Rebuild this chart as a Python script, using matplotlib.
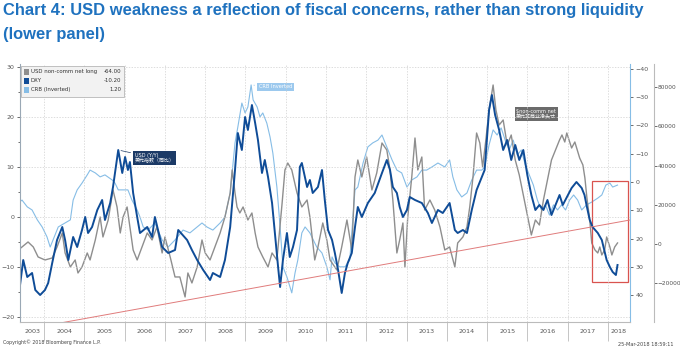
import matplotlib
matplotlib.use("Agg")
import matplotlib.pyplot as plt
import matplotlib.patches as patches
import numpy as np

plt.rcParams['font.family'] = ['DejaVu Sans', 'Noto Sans CJK SC']

# DXY, y/y %  (left axis)
dxy_t = [2003.36, 2003.48, 2003.58, 2003.70, 2003.78, 2003.90, 2004.02, 2004.10, 2004.20, 2004.32,
         2004.45, 2004.52, 2004.60, 2004.72, 2004.82, 2004.94, 2005.02, 2005.09, 2005.19, 2005.32,
         2005.44, 2005.51, 2005.64, 2005.71, 2005.84, 2005.94, 2006.01, 2006.08, 2006.13, 2006.21,
         2006.31, 2006.38, 2006.56, 2006.68, 2006.75, 2006.93, 2007.08, 2007.25, 2007.33, 2007.55,
         2007.67, 2007.80, 2007.95, 2008.12, 2008.19, 2008.37, 2008.49, 2008.62, 2008.74, 2008.81,
         2008.91, 2008.99, 2009.06, 2009.16, 2009.24, 2009.31, 2009.41, 2009.48, 2009.56, 2009.66,
         2009.73, 2009.81, 2009.86, 2009.93, 2010.03, 2010.10, 2010.18, 2010.28, 2010.35, 2010.40,
         2010.53, 2010.60, 2010.67, 2010.80, 2010.90, 2010.97, 2011.05, 2011.15, 2011.22, 2011.30,
         2011.39, 2011.47, 2011.54, 2011.64, 2011.72, 2011.79, 2011.89, 2012.04, 2012.21, 2012.39,
         2012.51, 2012.59, 2012.66, 2012.76, 2012.83, 2012.91, 2013.01, 2013.08, 2013.21, 2013.38,
         2013.53, 2013.63, 2013.78, 2013.90, 2014.07, 2014.20, 2014.27, 2014.40, 2014.50, 2014.62,
         2014.74, 2014.87, 2014.94, 2015.05, 2015.12, 2015.20, 2015.30, 2015.40, 2015.50, 2015.60,
         2015.70, 2015.80, 2015.90, 2016.00, 2016.10, 2016.20, 2016.30, 2016.40, 2016.50, 2016.60,
         2016.70, 2016.80, 2016.88, 2016.97, 2017.10, 2017.22, 2017.35, 2017.42, 2017.47, 2017.55,
         2017.62, 2017.75, 2017.85, 2017.97, 2018.05, 2018.12, 2018.20, 2018.24]
dxy_v = [-16.2, -8.6, -12.0, -11.2, -14.6, -15.6, -14.6, -13.2, -9.2, -4.6,
         -2.0, -4.6, -8.6, -4.0, -6.0, -2.6, 0.0, -3.2, -2.0, 1.4,
         3.4, -0.6, 2.8, 6.0, 13.4, 8.8, 12.0, 9.4, 11.0, 4.8,
         0.0, -3.2, -2.0, -4.0, 0.0, -6.0, -7.2, -6.6, -2.6, -4.6,
         -6.6, -8.6, -10.6, -12.6, -11.2, -12.0, -8.6, -2.0, 9.4, 16.8,
         13.4, 20.0, 17.4, 22.4, 18.8, 15.4, 8.8, 11.4, 8.0, 2.8,
         -3.2, -10.0, -14.0, -8.6, -3.2, -8.0, -6.0, -2.6, 10.0, 10.8,
         6.0, 7.4, 4.8, 6.0, 9.4, 3.4, -2.6, -4.6, -7.2, -10.6,
         -15.2, -11.2, -9.2, -7.2, -2.0, 2.0, 0.0, 2.8, 4.8, 8.8,
         11.4, 9.4, 6.0, 4.8, 2.0, 0.0, 1.4, 4.0, 3.4, 2.8,
         0.8, -1.2, 1.4, 0.8, 2.8, -2.6, -3.2, -2.6, -3.2, 1.4,
         5.4, 8.0, 9.4, 21.4, 24.4, 20.4, 17.4, 13.4, 15.4, 11.4,
         14.4, 11.4, 13.4, 8.4, 4.4, 1.4, 2.4, 1.4, 3.4, 0.4,
         2.4, 4.4, 2.4, 3.8, 5.8, 7.0, 5.8, 4.4, 2.4, -0.6,
         -2.0, -3.2, -4.6, -8.6, -10.0, -11.0, -11.6, -9.6]

# CRB y/y %, plotted on an inverted axis
crb_t = [2003.36, 2003.45, 2003.58, 2003.70, 2003.83, 2003.95, 2004.07, 2004.15, 2004.22, 2004.35,
         2004.52, 2004.65, 2004.72, 2004.82, 2004.94, 2005.07, 2005.14, 2005.27, 2005.39, 2005.51,
         2005.69, 2005.76, 2005.84, 2005.96, 2006.08, 2006.18, 2006.31, 2006.38, 2006.46, 2006.58,
         2006.75, 2006.93, 2007.08, 2007.25, 2007.45, 2007.62, 2007.80, 2007.92, 2008.04, 2008.19,
         2008.37, 2008.49, 2008.62, 2008.74, 2008.81, 2008.91, 2008.99, 2009.06, 2009.14, 2009.19,
         2009.29, 2009.36, 2009.43, 2009.53, 2009.61, 2009.68, 2009.78, 2009.86, 2009.93, 2010.03,
         2010.15, 2010.23, 2010.30, 2010.40, 2010.48, 2010.60, 2010.77, 2010.90, 2011.02, 2011.10,
         2011.15, 2011.22, 2011.34, 2011.47, 2011.59, 2011.72, 2011.79, 2011.92, 2012.04, 2012.16,
         2012.29, 2012.39, 2012.51, 2012.64, 2012.76, 2012.88, 2013.01, 2013.13, 2013.26, 2013.38,
         2013.50, 2013.63, 2013.78, 2013.95, 2014.07, 2014.15, 2014.25, 2014.37, 2014.50, 2014.62,
         2014.74, 2014.87, 2014.94, 2015.05, 2015.15, 2015.25, 2015.35, 2015.45, 2015.55, 2015.65,
         2015.75, 2015.85, 2015.95, 2016.05, 2016.15, 2016.25, 2016.35, 2016.45, 2016.55, 2016.65,
         2016.75, 2016.85, 2016.95, 2017.05, 2017.15, 2017.25, 2017.35, 2017.47, 2017.60, 2017.75,
         2017.85, 2017.95, 2018.05, 2018.12, 2018.24]
crb_v = [7.4, 6.4, 8.8, 9.9, 13.4, 15.9, 19.4, 23.0, 20.5, 15.9,
         14.5, 13.4, 6.4, 2.8, 0.4, -2.5, -4.2, -3.2, -1.8, -2.5,
         -0.7, 0.4, 2.8, 2.8, 2.8, 6.4, 9.9, 12.4, 15.9, 17.0,
         14.5, 20.5, 23.0, 20.5, 17.0, 18.0, 15.9, 14.5, 15.9, 17.0,
         14.5, 12.4, 3.9, -13.8, -19.4, -27.9, -24.4, -26.5, -34.3, -29.0,
         -26.5, -23.0, -24.4, -20.8, -15.9, -10.2, 1.8, 15.9, 30.0, 33.6,
         39.2, 32.2, 27.6, 18.0, 15.9, 18.0, 23.0, 25.1, 30.0, 34.6,
         26.5, 28.6, 30.0, 30.0, 27.6, 2.8, 1.8, -6.7, -12.4, -13.8,
         -14.8, -16.6, -12.4, -7.8, -4.2, -3.2, 1.8, -0.7, -1.8, -4.2,
         -4.2, -5.3, -6.7, -5.3, -7.8, -1.8, 2.8, 5.3, 3.9, -0.7,
         -4.2, -4.2, -5.3, -13.1, -18.4, -16.6, -19.1, -14.8, -11.3, -14.8,
         -9.5, -11.3, -6.0, -2.5, 1.1, 6.4, 9.9, 8.1, 11.7, 8.1,
         9.9, 8.1, 9.9, 6.4, 4.6, 6.4, 9.9, 8.1, 7.1, 5.7,
         4.6, 1.1, 0.4, 1.8, 1.1]

# USD non-commercial net long, contracts (far right axis)
pos_t = [2003.36, 2003.60, 2003.73, 2003.85, 2004.02, 2004.20, 2004.32, 2004.45, 2004.52, 2004.65,
         2004.77, 2004.84, 2004.94, 2005.07, 2005.14, 2005.27, 2005.39, 2005.46, 2005.59, 2005.71,
         2005.81, 2005.89, 2005.96, 2006.06, 2006.13, 2006.21, 2006.31, 2006.43, 2006.56, 2006.68,
         2006.80, 2006.93, 2007.00, 2007.13, 2007.25, 2007.37, 2007.50, 2007.57, 2007.67, 2007.80,
         2007.92, 2008.00, 2008.12, 2008.24, 2008.37, 2008.49, 2008.62, 2008.67, 2008.74, 2008.79,
         2008.86, 2008.94, 2009.06, 2009.16, 2009.24, 2009.31, 2009.43, 2009.56, 2009.66, 2009.78,
         2009.91, 2009.98, 2010.05, 2010.15, 2010.28, 2010.40, 2010.53, 2010.60, 2010.72, 2010.80,
         2010.92, 2011.02, 2011.10, 2011.27, 2011.39, 2011.52, 2011.64, 2011.72, 2011.79, 2011.89,
         2012.01, 2012.14, 2012.26, 2012.39, 2012.51, 2012.59, 2012.66, 2012.76, 2012.83, 2012.91,
         2012.96, 2013.03, 2013.13, 2013.21, 2013.28, 2013.38, 2013.45, 2013.58, 2013.70, 2013.83,
         2013.95, 2014.07, 2014.20, 2014.27, 2014.40, 2014.50, 2014.57, 2014.65, 2014.74, 2014.82,
         2014.89, 2014.97, 2015.05, 2015.15, 2015.22, 2015.30, 2015.40, 2015.50, 2015.60, 2015.70,
         2015.80, 2015.90, 2016.00, 2016.10, 2016.20, 2016.30, 2016.40, 2016.50, 2016.60, 2016.70,
         2016.80, 2016.86, 2016.93, 2016.98, 2017.10, 2017.18, 2017.30, 2017.38, 2017.43, 2017.48,
         2017.55, 2017.60, 2017.68, 2017.75, 2017.80, 2017.85, 2017.92, 2017.97, 2018.05, 2018.10,
         2018.17, 2018.24]
pos_v = [-3060, 1020, -1530, -6630, -8160, -7140, -1530, 5610, -4590, -11730,
         -8160, -14790, -11730, -4590, -8160, 2040, 13770, 3570, 12240, 27540,
         18870, 5610, 13770, 18870, 8670, -3060, -8160, -1530, 5610, 2040,
         8670, -4590, 3570, -6630, -16830, -16830, -27030, -14790, -19890, -11730,
         2040, -4590, -8160, -1530, 5610, 13770, 26010, 37740, 26010, 18870,
         15810, 18870, 12240, 15810, 5610, -1530, -6630, -11730, -4590, -8160,
         20910, 37740, 41310, 37740, 26010, 18870, 22440, 13770, -8160, -1530,
         10710, 2040, -8160, -13260, -1530, 12240, -3060, 34170, 42840, 34170,
         44370, 27540, 36210, 51510, 47940, 37740, 22440, -4590, 2040, 10710,
         -11730, 13770, 34170, 54060, 37740, 44370, 17340, 22440, 17340, 8670,
         -3060, -1530, -11730, 510, 3570, 8670, 18870, 34170, 56610, 51510,
         39270, 53040, 68340, 81090, 68340, 60690, 63240, 50490, 55590, 42840,
         35190, 24990, 14790, 4590, 12240, 9690, 22440, 32640, 42840, 47940,
         53040, 55590, 52020, 56610, 48960, 52020, 43860, 40290, 33660, 23460,
         12240, 510, -3060, -4590, -1530, -5610, -3060, 3570, -1530, -5610,
         -1530, 510]

years = list(range(2003, 2019))
legend_names = ["USD non-comm net long", "DXY", "CRB (Inverted)"]
legend_last = ["-64.00", "-10.20", "1.20"]

# hand drawn trend line and highlight box (left axis units)
trend_t = [2004.4, 2018.55]
trend_v = [-21.2, -0.6]
box_t = [2017.6, 2018.5]
box_v = [-13.0, 7.2]

c_dxy = '#0f4c97'
c_crb = '#86bde6'
c_pos = '#8e8e8e'
tick_c = '#555555'

fig = plt.figure(figsize=(6.8, 3.52), dpi=100)
ax = fig.add_axes([20 / 680, 30 / 352, 610 / 680, 258 / 352])
ax2 = ax.twinx()
ax3 = ax.twinx()
ax2.set_zorder(1)
ax3.set_zorder(2)
ax.set_zorder(3)
ax.patch.set_visible(False)

xmin, xmax = 2003.4, 2018.55
ax.set_xlim(xmin, xmax)
ax.set_ylim(-21.0, 30.6)
ax2.set_ylim(49.5, -41.7)
ax3.set_ylim(-39800, 91800)

ax2.plot(crb_t, crb_v, color=c_crb, lw=0.8)
ax3.plot(pos_t, pos_v, color=c_pos, lw=1.0)
ax.plot(dxy_t, dxy_v, color=c_dxy, lw=1.4)
ax.plot(trend_t, trend_v, color='#e07b7b', lw=0.7)
ax.add_patch(patches.Rectangle((box_t[0], box_v[0]), box_t[1] - box_t[0], box_v[1] - box_v[0],
                               fill=False, ec='#d9534f', lw=0.9))

# axes styling
for a in (ax, ax2, ax3):
    a.spines['top'].set_visible(False)
ax.spines['right'].set_visible(False)
ax.spines['left'].set_color('#9aa8b5')
ax.spines['bottom'].set_color('#bbbbbb')
for s in ('left', 'bottom'):
    ax2.spines[s].set_visible(False)
    ax3.spines[s].set_visible(False)
ax2.spines['right'].set_color(c_crb)
ax3.spines['right'].set_position(('outward', 17))
ax3.spines['right'].set_color('#bbbbbb')

ax.set_yticks(np.arange(-20, 31, 10))
ax.set_yticks(np.arange(-20, 31, 5), minor=True)
ax.tick_params(axis='y', which='both', labelsize=4.5, colors=tick_c, length=2.5, width=0.6, pad=1.5)
ax.tick_params(axis='y', which='minor', length=1.5)

ax.set_xticks(years[1:])
ax.set_xticklabels([])
mids = [(max(y, xmin) + min(y + 1, xmax)) / 2 for y in years]
ax.set_xticks(mids, minor=True)
ax.set_xticklabels([str(y) for y in years], minor=True)
ax.tick_params(axis='x', which='major', length=14, width=0.6, color='#bbbbbb')
ax.tick_params(axis='x', which='minor', length=0, labelsize=4.6, colors=tick_c, pad=5)

ax.grid(True, which='major', linestyle=(0, (2, 2)), color='#cfcfcf', lw=0.5)

ax2.set_yticks(np.arange(-40, 41, 10))
ax2.tick_params(axis='y', labelsize=4.5, colors=tick_c, length=2.5, width=0.6, pad=1.5)
for t in ax2.yaxis.get_ticklines():
    t.set_color(c_crb)
ax3.set_yticks(np.arange(-20000, 80001, 20000))
ax3.tick_params(axis='y', labelsize=4.2, colors=tick_c, length=2, width=0.6, pad=0.8)

# legend box
ax.add_patch(patches.Rectangle((0.002, 0.872), 0.168, 0.122, transform=ax.transAxes,
                               fc='#f2f2f2', ec='#aaaaaa', lw=0.5, zorder=5))
for i, (nm, val, c) in enumerate(zip(legend_names, legend_last, [c_pos, c_dxy, c_crb])):
    yy = 0.970 - i * 0.035
    ax.add_patch(patches.Rectangle((0.007, yy - 0.012), 0.008, 0.022, transform=ax.transAxes,
                                   fc=c, ec='none', zorder=6))
    ax.text(0.018, yy, nm, transform=ax.transAxes, fontsize=3.9, color='#333333',
            va='center', ha='left', zorder=6)
    ax.text(0.166, yy, val, transform=ax.transAxes, fontsize=3.9, color='#333333',
            va='center', ha='right', zorder=6)

# series tags
i_pk = int(np.argmax(dxy_v[:30]))
ax.annotate("USD (Y/Y)\n美元指数（同比）", xy=(dxy_t[i_pk], dxy_v[i_pk]), xytext=(2006.25, 11.8),
            fontsize=3.6, color='white', va='center', ha='left', linespacing=1.1,
            bbox=dict(boxstyle='square,pad=0.3', fc='#1c3a66', ec='none'),
            arrowprops=dict(arrowstyle='-', color='#1c3a66', lw=0.5), zorder=7)
i_crb = int(np.argmin(crb_v))
ax2.annotate("CRB Inverted", xy=(crb_t[i_crb], crb_v[i_crb]), xytext=(2009.33, -33.6),
             fontsize=3.6, color='white', va='center', ha='left',
             bbox=dict(boxstyle='square,pad=0.3', fc='#9cc9ee', ec='none'),
             arrowprops=dict(arrowstyle='-', color=c_crb, lw=0.5), zorder=7)
ax3.text(2015.72, 66300, "$non-comm net\n美元非商业净头寸", fontsize=3.6, color='white',
         va='center', ha='left', linespacing=1.1,
         bbox=dict(boxstyle='square,pad=0.3', fc='#6b6b6b', ec='none'), zorder=7)

# title and footer
fig.text(0.004, 1 - 11 / 352, "Chart 4: USD weakness a reflection of fiscal concerns, rather than strong liquidity",
         fontsize=11.9, fontweight='bold', color='#1f72bf', family='Liberation Sans', va='center')
fig.text(0.004, 1 - 35 / 352, "(lower panel)",
         fontsize=11.9, fontweight='bold', color='#1f72bf', family='Liberation Sans', va='center')
fig.text(0.004, 1 - 342 / 352, "Copyright\u00a9 2018 Bloomberg Finance L.P.", fontsize=3.4,
         color='#444444', va='center')
fig.text(0.99, 1 - 345 / 352, "25-Mar-2018 18:59:11", fontsize=3.6, color='#444444',
         va='center', ha='right')

fig.savefig("out.png", dpi=100, facecolor='white')
